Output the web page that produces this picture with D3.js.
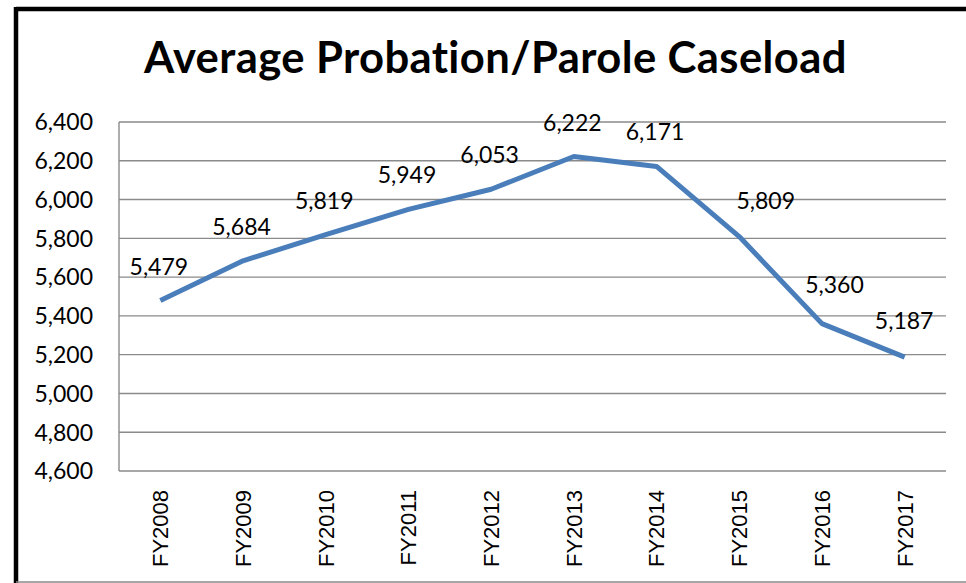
<!DOCTYPE html>
<html>
<head>
<meta charset="utf-8">
<script src="https://cdn.jsdelivr.net/npm/d3@7"></script>
<style>
  body { margin: 0; background: #fff; }
  svg { display: block; }
  text { font-variant-ligatures: none; }
</style>
</head>
<body>
<div id="wrapper"></div>
<script>
var years = ["FY2008", "FY2009", "FY2010", "FY2011", "FY2012", "FY2013", "FY2014", "FY2015", "FY2016", "FY2017"];
var caseload = [5479, 5684, 5819, 5949, 6053, 6222, 6171, 5809, 5360, 5187];
var yTicks = [4600, 4800, 5000, 5200, 5400, 5600, 5800, 6000, 6200, 6400];

drawLineChart('#wrapper');

function drawLineChart(dom_element_to_append_to) {
  var width = 966,
      height = 583;
  var left = 119, right = 946, top = 122, bottom = 471;

  var svg = d3.select(dom_element_to_append_to)
    .append("svg")
    .attr("width", width)
    .attr("height", height);

  // outer frame: heavy black top/left, thin grey bottom
  svg.append("line").attr("x1", 16).attr("x2", width).attr("y1", 9).attr("y2", 9)
    .attr("stroke", "#000").attr("stroke-width", 4.5);
  svg.append("line").attr("x1", 16).attr("x2", 16).attr("y1", 7).attr("y2", height)
    .attr("stroke", "#000").attr("stroke-width", 4.5);
  svg.append("line").attr("x1", 16).attr("x2", width).attr("y1", 582).attr("y2", 582)
    .attr("stroke", "#888").attr("stroke-width", 1.5);

  var x = d3.scaleBand().domain(years).range([left, right]);
  var y = d3.scaleLinear().domain([4600, 6400]).range([bottom, top]);

  // gridlines
  svg.append("g").selectAll("line")
    .data(yTicks)
    .enter().append("line")
    .attr("x1", left).attr("x2", right)
    .attr("y1", d => y(d)).attr("y2", d => y(d))
    .attr("stroke", "#8a8a8a").attr("stroke-width", 1.4);

  svg.append("line").attr("x1", left).attr("x2", left).attr("y1", top).attr("y2", bottom)
    .attr("stroke", "#8a8a8a").attr("stroke-width", 1.4);

  // y tick labels
  svg.append("g").selectAll("text")
    .data(yTicks)
    .enter().append("text")
    .attr("x", 93)
    .attr("y", d => y(d))
    .attr("dy", "0.36em")
    .attr("text-anchor", "end")
    .style("font-family", "Lato, 'Open Sans', sans-serif")
    .style("font-size", "23px")
    .style("fill", "#000")
    .text(d => d3.format(",")(d));

  // x labels, rotated
  svg.append("g").selectAll("text")
    .data(years)
    .enter().append("text")
    .attr("transform", d => "translate(" + (x(d) + x.bandwidth() / 2) + ",490) rotate(-90)")
    .attr("text-anchor", "end")
    .attr("dy", "0.36em")
    .style("font-family", "'Liberation Sans', Arial, sans-serif")
    .style("font-size", "22px")
    .style("fill", "#000")
    .text(d => d);

  var data = years.map((d, i) => ({ year: d, value: caseload[i] }));

  var line = d3.line()
    .x(d => x(d.year) + x.bandwidth() / 2)
    .y(d => y(d.value));

  svg.append("path")
    .datum(data)
    .attr("d", line)
    .attr("fill", "none")
    .attr("stroke", "#4a7ebb")
    .attr("stroke-width", 5)
    .attr("stroke-linejoin", "round");

  // data labels - a couple are pushed right off the steep segment, like excel does
  var nudge = { "FY2015": [28, -2], "FY2016": [14, -5], "FY2017": [1, -2] };

  svg.append("g").selectAll("text")
    .data(data)
    .enter().append("text")
    .attr("x", d => x(d.year) + x.bandwidth() / 2 - 1.5 + (nudge[d.year] ? nudge[d.year][0] : 0))
    .attr("y", d => y(d.value) - 26 + (nudge[d.year] ? nudge[d.year][1] : 0))
    .attr("text-anchor", "middle")
    .style("font-family", "Lato, 'Open Sans', sans-serif")
    .style("font-size", "23px")
    .style("fill", "#000")
    .text(d => d3.format(",")(d.value));

  // title, fitted to the reference width (letter-spacing also breaks lato's ti ligature)
  var title = svg.append("text")
    .attr("x", 495.5)
    .attr("y", 73)
    .attr("text-anchor", "middle")
    .style("font-family", "Lato, 'Open Sans', sans-serif")
    .style("font-weight", "bold")
    .style("font-size", "38px")
    .style("letter-spacing", "0.4px")
    .style("fill", "#000")
    .text("Average Probation/Parole Caseload");
  var w = title.node().getComputedTextLength();
  title.style("font-size", (38 * 705 / w) + "px");
}
</script>
</body>
</html>
